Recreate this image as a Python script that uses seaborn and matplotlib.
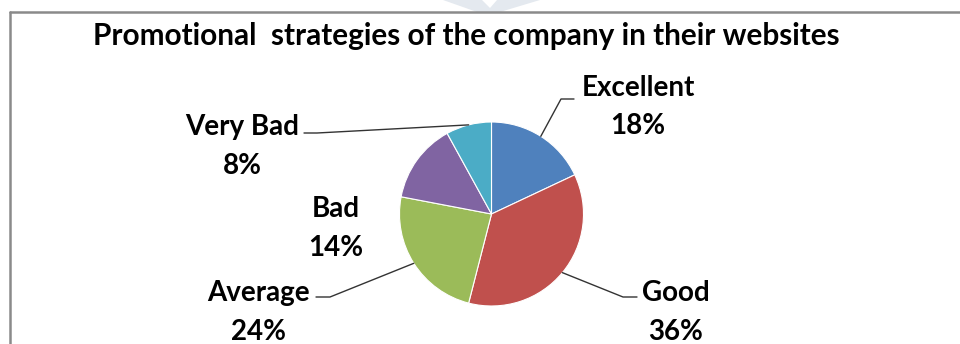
import matplotlib
matplotlib.use("Agg")
import matplotlib.pyplot as plt
from matplotlib.lines import Line2D
from matplotlib.patches import Polygon
import seaborn as sns
import numpy as np

# Survey data
categories = ["Excellent", "Good", "Average", "Bad", "Very Bad"]
shares = [18, 36, 24, 14, 8]
slice_colors = ["#4F81BD", "#C0504D", "#9BBB59", "#8064A2", "#4BACC6"]
title_text = "Promotional  strategies of the company in their websites"

sns.set_theme(style="white")
plt.rcParams["font.family"] = ["Lato", "DejaVu Sans"]

W, H = 960, 344
fig = plt.figure(figsize=(W / 100, H / 100), dpi=100)
fig.patch.set_facecolor("white")


def fx(x, y):
    """Pixel position (origin top-left) -> figure fraction."""
    return x / W, 1 - y / H


# faint decoration at the top edge
deco = [(443, 0), (482, 0), (490, 8), (497, 0), (540, 0), (500, 12), (477, 12)]
fig.add_artist(Polygon([fx(*p) for p in deco], closed=True, transform=fig.transFigure,
                       facecolor="#e4e9ef", edgecolor="none", zorder=0))

# chart frame (top and left edges)
fig.add_artist(Line2D([fx(10, 12)[0], fx(960, 12)[0]], [fx(10, 12)[1]] * 2,
                      transform=fig.transFigure, color="#8a8a8a", lw=1.8, zorder=1))
fig.add_artist(Line2D([fx(10, 12)[0]] * 2, [fx(10, 12)[1], fx(10, 344)[1]],
                      transform=fig.transFigure, color="#8a8a8a", lw=1.8, zorder=1))

# pie axes: center (491.5, 214), radius 92 px
cx, cy, r = 491.5, 214, 92
ax = fig.add_axes([(cx - r) / W, (H - cy - r) / H, 2 * r / W, 2 * r / H])
palette = sns.color_palette(slice_colors)
wedges, _ = ax.pie(shares, colors=palette, startangle=90, counterclock=False,
                   radius=1, wedgeprops=dict(edgecolor="white", linewidth=0.8))
ax.set_xlim(-1, 1)
ax.set_ylim(-1, 1)
ax.set_aspect("equal")
ax.axis("off")

fig.text(*fx(466, 45.5), title_text, ha="center", va="baseline",
         fontsize=21.4, fontweight="bold", color="black")

# label layout: name baseline, percent baseline, leader elbow and end
label_pos = {
    "Excellent": dict(x=638, y=96, leader=[(561, 99), (574, 99)]),
    "Good": dict(x=676, y=301, leader=[(623, 297), (637, 297)]),
    "Average": dict(x=258, y=301, leader=[(330, 297), (316, 297)]),
    "Bad": dict(x=336, y=217, leader=None),
    "Very Bad": dict(x=242, y=135, leader=[(317, 133), (304, 133)]),
}
line_gap = 38.5
to_fig = fig.transFigure.inverted()

for wedge, name, val in zip(wedges, categories, shares):
    pos = label_pos[name]
    fig.text(*fx(pos["x"], pos["y"]), name, ha="center", va="baseline",
             fontsize=20, fontweight="bold", color="black")
    fig.text(*fx(pos["x"], pos["y"] + line_gap), f"{val}%", ha="center",
             va="baseline", fontsize=20, fontweight="bold", color="black")
    if pos["leader"]:
        mid = np.deg2rad((wedge.theta1 + wedge.theta2) / 2)
        edge = to_fig.transform(ax.transData.transform((np.cos(mid), np.sin(mid))))
        pts = [tuple(edge)] + [fx(*p) for p in pos["leader"]]
        xs, ys = zip(*pts)
        fig.add_artist(Line2D(xs, ys, transform=fig.transFigure,
                              color="#333333", lw=1.0, zorder=3))

fig.savefig("out.png", dpi=100)
